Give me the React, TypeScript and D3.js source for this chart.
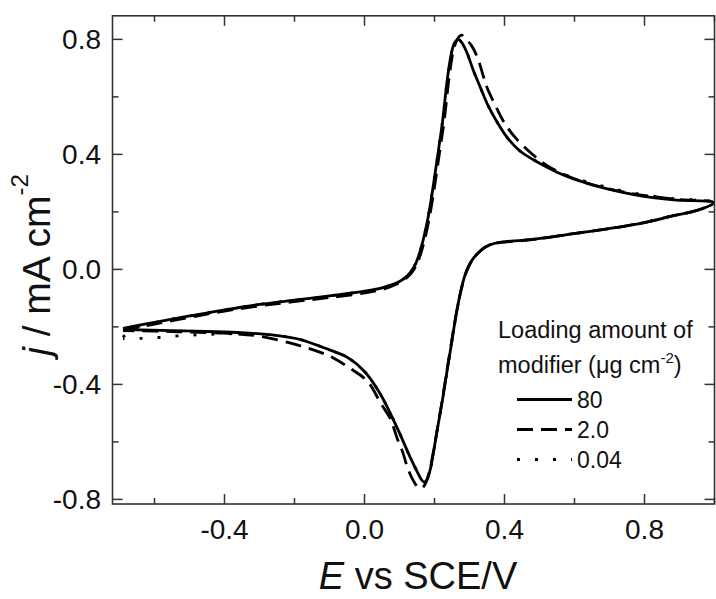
import React from "react";
import * as d3 from "d3";

type P = [number, number];

// Loading 80 µg cm-2 (solid)
const s80: P[] = [
  [-0.69, -0.205], [-0.6, -0.184], [-0.5, -0.162], [-0.4, -0.141], [-0.3, -0.122], [-0.2, -0.107],
  [-0.1, -0.092], [0.0, -0.076], [0.05, -0.064], [0.094, -0.046], [0.115, -0.03], [0.131, -0.01],
  [0.148, 0.025], [0.165, 0.09], [0.18, 0.17], [0.19, 0.24], [0.2, 0.32], [0.212, 0.42], [0.223, 0.515],
  [0.237, 0.665], [0.248, 0.75], [0.258, 0.79], [0.268, 0.8], [0.28, 0.785], [0.294, 0.75], [0.31, 0.695],
  [0.331, 0.633], [0.355, 0.565], [0.38, 0.51], [0.41, 0.455], [0.446, 0.41], [0.503, 0.367], [0.55, 0.338],
  [0.597, 0.315], [0.694, 0.28], [0.789, 0.256], [0.883, 0.242], [0.998, 0.232],
  [0.95, 0.205], [0.883, 0.187], [0.8, 0.163], [0.694, 0.141], [0.597, 0.124], [0.503, 0.108], [0.45, 0.101],
  [0.4, 0.096], [0.37, 0.09], [0.345, 0.078], [0.325, 0.058], [0.305, 0.028], [0.29, -0.01], [0.277, -0.065],
  [0.266, -0.13], [0.256, -0.2], [0.247, -0.27], [0.237, -0.345], [0.222, -0.46], [0.209, -0.55], [0.198, -0.63],
  [0.189, -0.69], [0.18, -0.727], [0.172, -0.74], [0.163, -0.732], [0.154, -0.712], [0.131, -0.655],
  [0.094, -0.553], [0.046, -0.435], [0.0, -0.355], [-0.05, -0.305], [-0.1, -0.28], [-0.183, -0.244],
  [-0.25, -0.23], [-0.35, -0.22], [-0.45, -0.216], [-0.55, -0.213], [-0.69, -0.209],
];

// Loading 2.0 µg cm-2 (dashed)
const s20: P[] = [
  [-0.69, -0.212], [-0.6, -0.19], [-0.5, -0.167], [-0.4, -0.145], [-0.3, -0.127], [-0.2, -0.112],
  [-0.1, -0.098], [0.0, -0.082], [0.05, -0.07], [0.094, -0.05], [0.12, -0.03], [0.136, -0.01],
  [0.152, 0.025], [0.168, 0.085], [0.183, 0.165], [0.194, 0.24], [0.204, 0.32], [0.216, 0.42], [0.228, 0.52],
  [0.242, 0.67], [0.254, 0.76], [0.265, 0.8], [0.277, 0.815], [0.29, 0.8], [0.305, 0.78], [0.323, 0.736],
  [0.34, 0.67], [0.351, 0.63], [0.374, 0.57], [0.397, 0.515], [0.431, 0.458], [0.483, 0.397], [0.523, 0.36],
  [0.58, 0.325], [0.65, 0.295], [0.75, 0.267], [0.88, 0.245], [0.998, 0.232],
  [0.95, 0.205], [0.883, 0.187], [0.8, 0.163], [0.694, 0.141], [0.597, 0.124], [0.503, 0.107], [0.45, 0.1],
  [0.4, 0.095], [0.37, 0.089], [0.345, 0.077], [0.325, 0.057], [0.305, 0.027], [0.29, -0.012], [0.277, -0.067],
  [0.265, -0.135], [0.255, -0.205], [0.245, -0.28], [0.235, -0.355], [0.22, -0.47], [0.206, -0.57],
  [0.196, -0.64], [0.186, -0.7], [0.176, -0.74], [0.165, -0.76], [0.155, -0.76], [0.146, -0.748],
  [0.126, -0.7], [0.109, -0.635], [0.094, -0.59], [0.074, -0.52], [0.046, -0.465], [0.009, -0.39],
  [-0.04, -0.345], [-0.089, -0.308], [-0.134, -0.285], [-0.2, -0.26], [-0.3, -0.232], [-0.4, -0.222],
  [-0.5, -0.218], [-0.6, -0.215], [-0.69, -0.213],
];

// Loading 0.04 µg cm-2 (dotted)
const s004: P[] = [
  [-0.69, -0.236], [-0.66, -0.205], [-0.6, -0.185], [-0.5, -0.162], [-0.4, -0.141], [-0.3, -0.122],
  [-0.2, -0.107], [-0.1, -0.092], [0.0, -0.076], [0.05, -0.064], [0.094, -0.046], [0.115, -0.03],
  [0.131, -0.01], [0.148, 0.025], [0.165, 0.09], [0.18, 0.17], [0.19, 0.24], [0.2, 0.32], [0.212, 0.42],
  [0.223, 0.515], [0.237, 0.665], [0.248, 0.75], [0.258, 0.79], [0.268, 0.8], [0.28, 0.785], [0.294, 0.75],
  [0.31, 0.695], [0.331, 0.633], [0.355, 0.565], [0.38, 0.51], [0.41, 0.455], [0.446, 0.41], [0.503, 0.368],
  [0.55, 0.341], [0.597, 0.319], [0.694, 0.285], [0.789, 0.261], [0.883, 0.246], [0.998, 0.233],
  [0.95, 0.205], [0.883, 0.187], [0.8, 0.163], [0.694, 0.141], [0.597, 0.124], [0.503, 0.108], [0.45, 0.101],
  [0.4, 0.096], [0.37, 0.09], [0.345, 0.078], [0.325, 0.058], [0.305, 0.028], [0.29, -0.01], [0.277, -0.065],
  [0.266, -0.13], [0.256, -0.2], [0.247, -0.27], [0.237, -0.345], [0.222, -0.46], [0.209, -0.55], [0.198, -0.63],
  [0.189, -0.69], [0.18, -0.727], [0.172, -0.74], [0.163, -0.732], [0.154, -0.712], [0.131, -0.655],
  [0.094, -0.553], [0.046, -0.435], [0.0, -0.355], [-0.05, -0.305], [-0.1, -0.28], [-0.183, -0.244],
  [-0.25, -0.23], [-0.3, -0.225], [-0.4, -0.224], [-0.46, -0.227], [-0.52, -0.23], [-0.58, -0.236],
  [-0.64, -0.24], [-0.69, -0.241],
];

const xMajor = [-0.4, 0.0, 0.4, 0.8];
const xMinor = [-0.6, -0.2, 0.2, 0.6, 1.0];
const yMajor = [-0.8, -0.4, 0.0, 0.4, 0.8];
const yMinor = [-0.6, -0.2, 0.2, 0.6];
const legendLabels = ["80", "2.0", "0.04"];
const legendDash = ["none", "16 8", "3 15"];

const W = 716;
const H = 599;
const L = 112.5, R = 714.5, T = 15.8, B = 504;

export default function App() {
  const x = d3.scaleLinear().domain([-0.72, 1.0]).range([L, R]);
  const y = d3.scaleLinear().domain([-0.816, 0.882]).range([B, T]);
  const line = d3
    .line<P>()
    .x((d) => x(d[0]))
    .y((d) => y(d[1]))
    .curve(d3.curveCatmullRom.alpha(0.5));
  const font = "'Liberation Sans', Arial, sans-serif";
  const axisColor = "#333";
  const fmt = (v: number) => (Math.abs(v) < 1e-9 ? "0.0" : v.toFixed(1));

  return (
    <svg
      width={W}
      height={H}
      style={{ position: "absolute", left: 0, top: 0, background: "#fff" }}
      fontFamily={font}
    >
      <rect width={W} height={H} fill="#fff" />
      <g fill="none" stroke="#000" strokeWidth={2.8}>
        <path d={line(s004) || ""} strokeDasharray="3 15" />
        <path d={line(s20) || ""} strokeDasharray="16 8" />
        <path d={line(s80) || ""} />
      </g>
      {/* frame */}
      <rect x={L} y={T} width={R - L} height={B - T} fill="none" stroke={axisColor} strokeWidth={1.6} />
      {/* ticks */}
      <g stroke={axisColor} strokeWidth={1.5}>
        {xMajor.map((v) => (
          <g key={"xM" + v}>
            <line x1={x(v)} x2={x(v)} y1={B} y2={B - 10} />
            <line x1={x(v)} x2={x(v)} y1={T} y2={T + 10} />
          </g>
        ))}
        {xMinor.map((v) => (
          <g key={"xm" + v}>
            <line x1={x(v)} x2={x(v)} y1={B} y2={B - 6} />
            <line x1={x(v)} x2={x(v)} y1={T} y2={T + 6} />
          </g>
        ))}
        {yMajor.map((v) => (
          <g key={"yM" + v}>
            <line x1={L} x2={L + 10} y1={y(v)} y2={y(v)} />
            <line x1={R} x2={R - 10} y1={y(v)} y2={y(v)} />
          </g>
        ))}
        {yMinor.map((v) => (
          <g key={"ym" + v}>
            <line x1={L} x2={L + 6} y1={y(v)} y2={y(v)} />
            <line x1={R} x2={R - 6} y1={y(v)} y2={y(v)} />
          </g>
        ))}
      </g>
      {/* tick labels */}
      <g fontSize={28} fill="#111">
        {xMajor.map((v) => (
          <text key={"xl" + v} x={x(v)} y={539} textAnchor="middle">
            {fmt(v)}
          </text>
        ))}
        {yMajor.map((v) => (
          <text key={"yl" + v} x={101} y={y(v)} dy="0.36em" textAnchor="end">
            {fmt(v)}
          </text>
        ))}
      </g>
      {/* axis titles */}
      <text x={418} y={589} fontSize={38} textAnchor="middle" fill="#111">
        <tspan fontStyle="italic">E</tspan>
        <tspan> vs SCE/V</tspan>
      </text>
      <text
        transform={`translate(50, 265) rotate(-90)`}
        fontSize={39}
        textAnchor="middle"
        fill="#111"
      >
        <tspan fontStyle="italic">j</tspan>
        <tspan> / mA cm</tspan>
        <tspan fontSize={24} dy={-22}>-2</tspan>
      </text>
      {/* legend */}
      <g fill="#111" fontSize={23.5}>
        <text x={498} y={338}>Loading amount of</text>
        <text x={498} y={373}>
          modifier (μg cm<tspan fontSize={15} dy={-10}>-2</tspan>
          <tspan dy={10}>)</tspan>
        </text>
        {legendLabels.map((lab, i) => (
          <g key={lab}>
            <line
              x1={517}
              x2={572}
              y1={399.5 + i * 30}
              y2={399.5 + i * 30}
              stroke="#000"
              strokeWidth={2.8}
              strokeDasharray={legendDash[i]}
            />
            <text x={577} y={408 + i * 30} fontSize={23}>
              {lab}
            </text>
          </g>
        ))}
      </g>
    </svg>
  );
}
